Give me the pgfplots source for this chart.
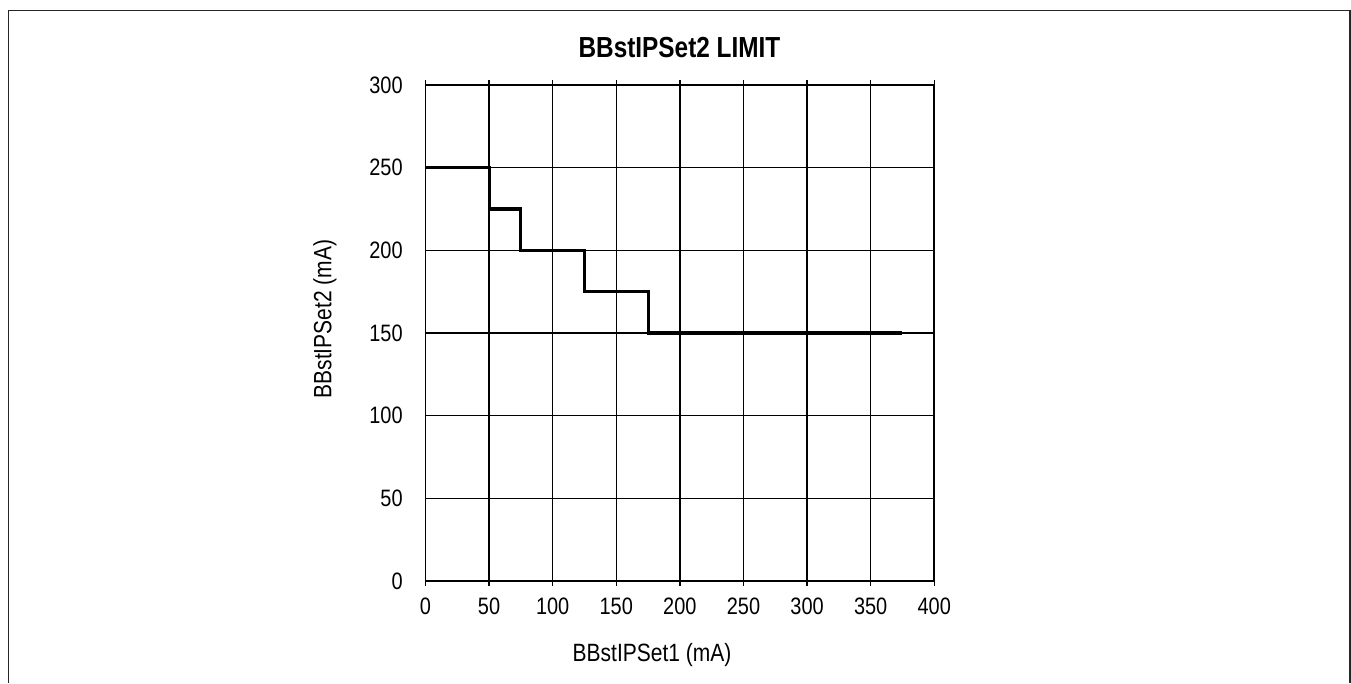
\documentclass[border=0pt]{standalone}
\usepackage{fontspec}
\setmainfont{Liberation Sans}[FakeStretch=0.84]
\usepackage{pgfplots}
\pgfplotsset{compat=1.18}
\begin{document}
\begin{tikzpicture}
\path[use as bounding box] (0,0) rectangle (1013.25pt,-512.25pt);
\draw[line width=1.1pt, black!85] (6.4pt,-512.25pt) -- (6.4pt,-7.9pt) -- (1012.5pt,-7.9pt) -- (1012.5pt,-512.25pt);
\begin{axis}[
  at={(319.1pt,-435.75pt)}, anchor=south west,
  width=381.6pt, height=372pt, scale only axis,
  xmin=0, xmax=400, ymin=0, ymax=300,
  xtick={0,50,...,400}, ytick={0,50,...,300},
  grid=major, major grid style={black, line width=1.05pt},
  axis line style={line width=1.2pt},
  xtick align=outside, major tick length=3.75pt,
  xtick style={black, line width=1.05pt},
  ytick style={draw=none},
  /pgf/number format/assume math mode=true,
  tick label style={font=\fontsize{17.8pt}{20pt}\selectfont, inner sep=0pt},
  xticklabel style={yshift=-9pt},
  yticklabel style={xshift=-16.9pt},
]
\addplot[black, line width=2.3pt, const plot] coordinates {(0,250) (50,225) (75,200) (125,175) (175,150) (375,150)};
\end{axis}
\node[font=\fontsize{18.75pt}{22pt}\selectfont] at (489pt,-491.25pt) {BBstIPSet1 (mA)};
\node[rotate=90, font=\fontsize{18.75pt}{22pt}\selectfont] at (243.75pt,-239.25pt) {BBstIPSet2 (mA)};
\node[font=\fontsize{21.75pt}{25pt}\selectfont\bfseries] at (509.6pt,-35.5pt) {BBstIPSet2 LIMIT};
\end{tikzpicture}
\end{document}
